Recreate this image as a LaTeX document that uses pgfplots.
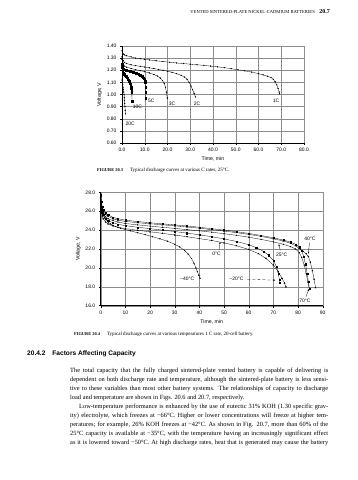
\documentclass[border=0pt]{standalone}
\usepackage{fontspec}
\setmainfont{Liberation Serif}
\setsansfont{Liberation Sans}
\usepackage{pgfplots}
\pgfplotsset{compat=1.18}
\usetikzlibrary{arrows.meta}
\pgfplotsset{
  chartstyle/.style={
    scale only axis,
    axis lines*=left,
    grid=major,
    major grid style={black!45, line width=0.35pt},
    tick align=outside,
    major tick length=2bp,
    tick style={black, line width=0.4pt},
    axis line style={black, line width=0.5pt},
    tick label style={font=\sffamily\fontsize{5}{6}\selectfont},
    label style={font=\sffamily\fontsize{5.2}{6}\selectfont},
    /pgf/number format/assume math mode=true,
    clip=false,
  },
  dots/.style={black, line width=0.3pt, mark=*, mark size=0.45pt},
  sq/.style={black, line width=0.3pt, mark=square*, mark size=0.75pt},
  tri/.style={black, line width=0.3pt, mark=triangle*, mark size=0.85pt},
  sqs/.style={black, line width=0.3pt, mark=square*, mark size=0.55pt},
  tris/.style={black, line width=0.3pt, mark=triangle*, mark size=0.7pt},
}
\newcommand{\J}[1]{\hbox to 258bp{#1}}
\newcommand{\Lst}[1]{\hbox to 258bp{#1\hfil}}
\begin{document}
\begin{tikzpicture}[x=1bp,y=1bp]
\path[use as bounding box] (0,0) rectangle (357,480);

% running header
\node[anchor=base east, inner sep=0] at (315,466) {\fontsize{4.6}{5}\selectfont VENTED SINTERED-PLATE NICKEL-CADMIUM BATTERIES};
\node[anchor=base east, inner sep=0] at (330,466) {\bfseries\fontsize{6}{6}\selectfont 20.7};

% ---------------- chart 1 ----------------
\begin{axis}[chartstyle,
  at={(122bp,337bp)}, anchor=south west,
  width=182bp, height=97bp,
  xmin=0, xmax=80, ymin=0.6, ymax=1.4,
  xtick={0,10,...,80}, ytick={0.6,0.7,...,1.41},
  xticklabel style={/pgf/number format/.cd, fixed, fixed zerofill, precision=1},
  yticklabel style={/pgf/number format/.cd, fixed, fixed zerofill, precision=2},
  xlabel={Time, min}, ylabel={Voltage, V},
  xlabel style={yshift=2bp}, ylabel style={yshift=-2bp},
]
% 1C
\addplot[dots] coordinates {(0,1.36) (0.5,1.335) (1,1.327) (2,1.32) (4,1.31) (6,1.30) (8,1.295) (10,1.29) (12,1.285) (15,1.278) (18,1.272) (21,1.266) (24,1.26) (27,1.255) (30,1.25) (33,1.245) (36,1.24) (39,1.234) (42,1.228) (45,1.221) (48,1.213) (51,1.204) (54,1.195) (57,1.185) (60,1.172) (62,1.162) (64,1.15) (65.5,1.14) (66.5,1.125) (67.3,1.105) (68,1.08) (68.6,1.05) (69.1,1.02) (69.3,1.005)};
% 2C
\addplot[dots] coordinates {(0,1.31) (0.5,1.28) (1,1.265) (2,1.255) (4,1.245) (6,1.238) (8,1.232) (10,1.226) (12,1.22) (14,1.214) (16,1.207) (18,1.2) (20,1.192) (22,1.183) (24,1.172) (26,1.158) (27.5,1.143) (28.6,1.125) (29.5,1.10) (30.3,1.07) (31,1.04) (31.7,1.01) (32.3,0.98)};
% 3C
\addplot[dots] coordinates {(0,1.29) (0.5,1.25) (1,1.235) (2,1.225) (4,1.215) (6,1.205) (8,1.197) (10,1.188) (12,1.178) (14,1.165) (15.5,1.152) (16.8,1.135) (17.8,1.115) (18.6,1.09) (19.1,1.06) (19.5,1.02) (19.9,0.97)};
% 5C
\addplot[sq] coordinates {(0,1.25) (0.3,1.22) (0.6,1.21) (1,1.205) (1.5,1.202) (2,1.20) (2.5,1.197) (3,1.195) (3.5,1.192) (4,1.19) (4.5,1.187) (5,1.185) (5.5,1.181) (6,1.178) (6.5,1.174) (7,1.17) (7.5,1.165) (8,1.16) (8.4,1.155) (8.8,1.15) (9.1,1.145) (9.4,1.14) (9.7,1.132) (9.9,1.125) (10.1,1.11) (10.2,1.10) (10.3,1.06) (10.4,1.02) (10.5,0.97)};
% 10C
\addplot[sq] coordinates {(0,1.24) (0.1,1.22) (0.2,1.2) (0.3,1.19) (0.4,1.18) (0.55,1.175) (0.7,1.17) (0.85,1.167) (1,1.165) (1.25,1.16) (1.5,1.155) (1.75,1.15) (2,1.145) (2.25,1.138) (2.5,1.13) (2.75,1.122) (3,1.115) (3.2,1.108) (3.4,1.10) (3.6,1.09) (3.8,1.08) (3.95,1.065) (4.1,1.05) (4.2,1.035) (4.3,1.02) (4.4,0.945)};
% 20C
\addplot[dots] coordinates {(0,1.12) (0.15,1.10) (0.3,1.08) (0.45,1.06) (0.6,1.04) (0.75,1.02) (0.9,1.0) (1.0,0.975) (1.1,0.95) (1.2,0.925) (1.3,0.90) (1.4,0.87) (1.5,0.84)};
\node[font=\sffamily\fontsize{5}{6}\selectfont] at (axis cs:67.7,0.946) {1C};
\node[font=\sffamily\fontsize{5}{6}\selectfont] at (axis cs:33,0.922) {2C};
\node[font=\sffamily\fontsize{5}{6}\selectfont] at (axis cs:22,0.922) {3C};
\node[font=\sffamily\fontsize{5}{6}\selectfont] at (axis cs:12.9,0.946) {5C};
\node[font=\sffamily\fontsize{5}{6}\selectfont] at (axis cs:6.8,0.897) {10C};
\node[font=\sffamily\fontsize{5}{6}\selectfont] at (axis cs:3.6,0.757) {20C};
\end{axis}

\node[anchor=base west, inner sep=0] at (97,308) {\bfseries\fontsize{4.4}{5}\selectfont FIGURE 20.3\hspace{7bp}\mdseries\fontsize{5}{6}\selectfont Typical discharge curves at various C rates, 25°C.};

% ---------------- chart 2 ----------------
\begin{axis}[chartstyle,
  at={(100.7bp,174.3bp)}, anchor=south west,
  width=222bp, height=113.4bp,
  xmin=0, xmax=90, ymin=16, ymax=28,
  xtick={0,10,...,90}, ytick={16,18,...,28},
  yticklabel style={/pgf/number format/.cd, fixed, fixed zerofill, precision=1},
  xlabel={Time, min}, ylabel={Voltage, V},
  xlabel style={yshift=2bp}, ylabel style={yshift=-2bp},
]
% 70C
\addplot[sqs] coordinates {(0,27.7) (0.3,27.0) (0.6,26.5) (1,26.2) (2,25.8) (3,25.6) (5,25.35) (7,25.2) (10,25.05) (15,24.9) (20,24.78) (25,24.66) (30,24.55) (35,24.43) (40,24.3) (45,24.15) (50,24.0) (55,23.83) (60,23.65) (65,23.43) (70,23.18) (74,22.95) (77,22.72) (79,22.5) (80.5,22.2) (81.5,21.8) (82.3,21.2) (83,20.4) (83.7,19.4) (84.2,18.5) (84.6,17.8)};
% 40C
\addplot[tris] coordinates {(0,27.5) (0.3,26.8) (0.6,26.3) (1,26.0) (2,25.65) (3,25.45) (5,25.2) (7,25.05) (10,24.92) (15,24.78) (20,24.67) (25,24.56) (30,24.45) (35,24.33) (40,24.2) (45,24.05) (50,23.9) (55,23.73) (60,23.55) (65,23.33) (70,23.08) (74,22.85) (77,22.6) (79,22.35) (80.5,22.05) (82,21.75) (83.3,21.5) (84.2,21.2) (85,20.6) (85.8,19.7) (86.5,18.8) (87.1,17.9)};
% 25C
\addplot[dots] coordinates {(0,27.2) (0.3,26.5) (0.6,26.0) (1,25.7) (2,25.4) (3,25.2) (5,25.0) (7,24.85) (10,24.7) (15,24.55) (20,24.42) (25,24.3) (30,24.18) (35,24.05) (40,23.92) (45,23.78) (50,23.62) (55,23.45) (60,23.25) (65,23.02) (70,22.75) (74,22.5) (77,22.25) (79,22.0) (80.5,21.6) (81.5,21.1) (82.5,20.3) (83.3,19.4) (84,18.5) (84.6,17.7)};
% -20C
\addplot[sqs] coordinates {(0,27.0) (0.3,26.3) (0.6,25.9) (1,25.6) (2,25.2) (3,25.0) (5,24.78) (7,24.62) (10,24.47) (15,24.3) (20,24.15) (25,24.0) (30,23.85) (35,23.68) (40,23.5) (45,23.3) (50,23.07) (55,22.8) (60,22.45) (63,22.15) (66,21.75) (68,21.35) (70,20.8) (71.3,20.1) (72,19.4) (72.4,18.8) (72.7,18.4)};
% 0C
\addplot[tris] coordinates {(0,26.8) (0.3,26.0) (0.6,25.5) (1,25.2) (2,24.85) (3,24.65) (5,24.45) (7,24.3) (10,24.15) (15,23.98) (20,23.82) (25,23.66) (30,23.48) (35,23.3) (40,23.1) (45,22.9) (50,22.65) (55,22.35) (60,21.95) (64,21.5) (67,21.0) (70,20.3) (72,19.6) (73.5,18.9) (74.5,18.4) (75.1,18.0)};
% -40C
\addplot[dots] coordinates {(0,27.6) (0.3,26.6) (0.6,26.0) (1,25.6) (1.5,25.3) (2,25.1) (3,24.85) (4,24.65) (5,24.5) (6,24.38) (8,24.2) (10,24.05) (12,23.92) (15,23.72) (18,23.52) (21,23.3) (24,23.08) (27,22.83) (30,22.5) (32,22.22) (34,21.85) (35.5,21.45) (36.8,21.0) (37.8,20.5) (38.6,20.0) (39.2,19.6) (39.8,19.2) (40.3,18.9)};
\begin{scope}[every node/.style={font=\sffamily\fontsize{5}{6}\selectfont, inner sep=1bp}]
\node at (axis cs:35.1,18.85) {−40°C};
\node at (axis cs:55,18.8) {−20°C};
\draw[densely dashed, line width=0.3pt, -{Stealth[length=2bp,width=1.6bp]}] (axis cs:59.5,18.8) -- (axis cs:70.8,18.7);
\node at (axis cs:47,21.45) {0°C};
\draw[line width=0.3pt, -{Stealth[length=2bp,width=1.6bp]}] (axis cs:48,21.9) -- (axis cs:48.4,22.75);
\node at (axis cs:73.4,21.4) {25°C};
\draw[line width=0.3pt, -{Stealth[length=2bp,width=1.6bp]}] (axis cs:72.8,21.85) -- (axis cs:72.2,22.5);
\node at (axis cs:84.8,23.1) {40°C};
\draw[line width=0.3pt, -{Stealth[length=2bp,width=1.6bp]}] (axis cs:84.6,22.65) -- (axis cs:84.2,21.5);
\node at (axis cs:82.8,16.5) {70°C};
\draw[line width=0.3pt, -{Stealth[length=2bp,width=1.6bp]}] (axis cs:83.2,16.95) -- (axis cs:84.4,17.75);
\end{scope}
\end{axis}

\node[anchor=base west, inner sep=0] at (74,144) {\bfseries\fontsize{4.4}{5}\selectfont FIGURE 20.4\hspace{7bp}\mdseries\fontsize{5}{6}\selectfont Typical discharge curves at various temperatures 1 C rate, 20-cell battery.};

% heading
\node[anchor=base west, inner sep=0] at (27,124) {\sffamily\bfseries\fontsize{6.6}{7}\selectfont 20.4.2\hspace{7bp}Factors Affecting Capacity};

% body text
\node[anchor=north west, inner sep=0] at (70,112) {\fontsize{6.4}{9}\selectfont\vbox{\baselineskip=9bp
\J{The total capacity that the fully charged sintered-plate vented battery is capable of delivering is}
\J{dependent on both discharge rate and temperature, although the sintered-plate battery is less sensi-}
\J{tive to these variables than most other battery systems. The relationships of capacity to discharge}
\Lst{load and temperature are shown in Figs. 20.6 and 20.7, respectively.}
\J{\hspace*{9bp}Low-temperature performance is enhanced by the use of eutectic 31\% KOH (1.30 specific grav-}
\J{ity) electrolyte, which freezes at −66°C. Higher or lower concentrations will freeze at higher tem-}
\J{peratures; for example, 26\% KOH freezes at −42°C. As shown in Fig. 20.7, more than 60\% of the}
\J{25°C capacity is available at −35°C, with the temperature having an increasingly significant effect}
\J{as it is lowered toward −50°C. At high discharge rates, heat that is generated may cause the battery}
}};
\end{tikzpicture}
\end{document}
